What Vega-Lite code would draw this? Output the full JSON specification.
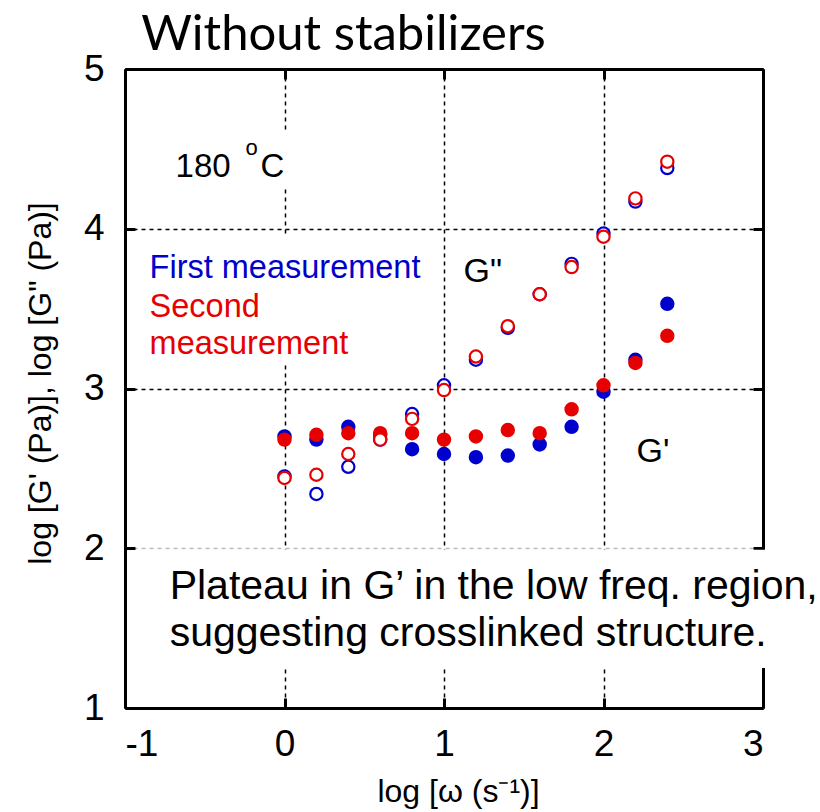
{
  "$schema": "https://vega.github.io/schema/vega-lite/v6.json",
  "width": 638,
  "height": 639,
  "autosize": {"type": "none"},
  "padding": {"left": 125, "top": 69, "right": 57, "bottom": 104},
  "background": "white",
  "config": {
    "view": {"stroke": null},
    "axis": {
      "domainColor": "black", "domainWidth": 3,
      "tickColor": "black", "tickWidth": 3, "tickSize": -10,
      "labelFont": "Liberation Sans", "labelFontSize": 37, "labelColor": "black",
      "titleFont": "Liberation Sans", "titleFontSize": 32, "titleFontWeight": "normal", "titleColor": "black",
      "gridColor": "black", "gridDash": [4, 4], "gridWidth": 1.5, "gridOpacity": 1
    }
  },
  "resolve": {"axis": {"x": "independent", "y": "independent"}},
  "layer": [
    {
      "data": {"values": [{}]},
      "mark": {"type": "point", "opacity": 0},
      "encoding": {
        "x": {"datum": 1, "type": "quantitative", "scale": {"domain": [-1, 3], "nice": false, "zero": false},
          "axis": {"orient": "top", "values": [-1, 0, 1, 2, 3], "labels": false, "title": null, "grid": false}},
        "y": {"datum": 3, "type": "quantitative", "scale": {"domain": [1, 5], "nice": false, "zero": false},
          "axis": {"orient": "right", "values": [1, 2, 3, 4, 5], "labels": false, "title": null, "grid": false}}
      }
    },
    {
      "data": {"values": [
        {"w": 0.0, "G": 2.70, "series": "First measurement", "modulus": "G'"},
        {"w": 0.2, "G": 2.68, "series": "First measurement", "modulus": "G'"},
        {"w": 0.4, "G": 2.76, "series": "First measurement", "modulus": "G'"},
        {"w": 0.6, "G": 2.71, "series": "First measurement", "modulus": "G'"},
        {"w": 0.8, "G": 2.62, "series": "First measurement", "modulus": "G'"},
        {"w": 1.0, "G": 2.59, "series": "First measurement", "modulus": "G'"},
        {"w": 1.2, "G": 2.57, "series": "First measurement", "modulus": "G'"},
        {"w": 1.4, "G": 2.58, "series": "First measurement", "modulus": "G'"},
        {"w": 1.6, "G": 2.65, "series": "First measurement", "modulus": "G'"},
        {"w": 1.8, "G": 2.76, "series": "First measurement", "modulus": "G'"},
        {"w": 2.0, "G": 2.98, "series": "First measurement", "modulus": "G'"},
        {"w": 2.2, "G": 3.18, "series": "First measurement", "modulus": "G'"},
        {"w": 2.4, "G": 3.53, "series": "First measurement", "modulus": "G'"},
        {"w": 0.0, "G": 2.45, "series": "First measurement", "modulus": "G\""},
        {"w": 0.2, "G": 2.34, "series": "First measurement", "modulus": "G\""},
        {"w": 0.4, "G": 2.51, "series": "First measurement", "modulus": "G\""},
        {"w": 0.6, "G": 2.68, "series": "First measurement", "modulus": "G\""},
        {"w": 0.8, "G": 2.84, "series": "First measurement", "modulus": "G\""},
        {"w": 1.0, "G": 3.02, "series": "First measurement", "modulus": "G\""},
        {"w": 1.2, "G": 3.18, "series": "First measurement", "modulus": "G\""},
        {"w": 1.4, "G": 3.38, "series": "First measurement", "modulus": "G\""},
        {"w": 1.6, "G": 3.59, "series": "First measurement", "modulus": "G\""},
        {"w": 1.8, "G": 3.78, "series": "First measurement", "modulus": "G\""},
        {"w": 2.0, "G": 3.97, "series": "First measurement", "modulus": "G\""},
        {"w": 2.2, "G": 4.17, "series": "First measurement", "modulus": "G\""},
        {"w": 2.4, "G": 4.38, "series": "First measurement", "modulus": "G\""},
        {"w": 0.0, "G": 2.68, "series": "Second measurement", "modulus": "G'"},
        {"w": 0.2, "G": 2.71, "series": "Second measurement", "modulus": "G'"},
        {"w": 0.4, "G": 2.72, "series": "Second measurement", "modulus": "G'"},
        {"w": 0.6, "G": 2.72, "series": "Second measurement", "modulus": "G'"},
        {"w": 0.8, "G": 2.72, "series": "Second measurement", "modulus": "G'"},
        {"w": 1.0, "G": 2.68, "series": "Second measurement", "modulus": "G'"},
        {"w": 1.2, "G": 2.70, "series": "Second measurement", "modulus": "G'"},
        {"w": 1.4, "G": 2.74, "series": "Second measurement", "modulus": "G'"},
        {"w": 1.6, "G": 2.72, "series": "Second measurement", "modulus": "G'"},
        {"w": 1.8, "G": 2.87, "series": "Second measurement", "modulus": "G'"},
        {"w": 2.0, "G": 3.02, "series": "Second measurement", "modulus": "G'"},
        {"w": 2.2, "G": 3.16, "series": "Second measurement", "modulus": "G'"},
        {"w": 2.4, "G": 3.33, "series": "Second measurement", "modulus": "G'"},
        {"w": 0.0, "G": 2.44, "series": "Second measurement", "modulus": "G\""},
        {"w": 0.2, "G": 2.46, "series": "Second measurement", "modulus": "G\""},
        {"w": 0.4, "G": 2.59, "series": "Second measurement", "modulus": "G\""},
        {"w": 0.6, "G": 2.68, "series": "Second measurement", "modulus": "G\""},
        {"w": 0.8, "G": 2.81, "series": "Second measurement", "modulus": "G\""},
        {"w": 1.0, "G": 2.99, "series": "Second measurement", "modulus": "G\""},
        {"w": 1.2, "G": 3.20, "series": "Second measurement", "modulus": "G\""},
        {"w": 1.4, "G": 3.39, "series": "Second measurement", "modulus": "G\""},
        {"w": 1.6, "G": 3.59, "series": "Second measurement", "modulus": "G\""},
        {"w": 1.8, "G": 3.76, "series": "Second measurement", "modulus": "G\""},
        {"w": 2.0, "G": 3.95, "series": "Second measurement", "modulus": "G\""},
        {"w": 2.2, "G": 4.19, "series": "Second measurement", "modulus": "G\""},
        {"w": 2.4, "G": 4.42, "series": "Second measurement", "modulus": "G\""}
      ]},
      "mark": {"type": "point", "shape": "circle", "size": 150, "strokeWidth": 2.2, "opacity": 1, "fillOpacity": 1},
      "encoding": {
        "x": {"field": "w", "type": "quantitative", "scale": {"domain": [-1, 3], "nice": false, "zero": false},
          "axis": {"orient": "bottom", "values": [-1, 0, 1, 2, 3], "labelExpr": "'' + datum.value", "labelPadding": 28, "title": "log [ω (s⁻¹)]", "titlePadding": 14, "titleX": 333, "titleAlign": "center", "grid": true}},
        "y": {"field": "G", "type": "quantitative", "scale": {"domain": [1, 5], "nice": false, "zero": false},
          "axis": {"orient": "left", "values": [1, 2, 3, 4, 5], "labelExpr": "'' + datum.value", "labelPadding": 31, "title": "log [G' (Pa)], log [G\" (Pa)]", "titlePadding": 26, "titleY": 314, "grid": true,
            "gridColor": {"condition": {"test": "datum.value === 2", "value": "#bbbbbb"}, "value": "black"}}},
        "stroke": {"field": "series", "type": "nominal", "scale": {"domain": ["First measurement", "Second measurement"], "range": ["#0000cc", "#e60000"]}, "legend": null},
        "fill": {"condition": {"test": "datum.modulus === 'G\"'", "value": "white"}, "field": "series", "type": "nominal", "scale": {"domain": ["First measurement", "Second measurement"], "range": ["#0000cc", "#e60000"]}, "legend": null}
      }
    },
    {
      "data": {"values": [{}]},
      "mark": {"type": "rect", "fill": "white", "stroke": null},
      "encoding": {
        "x": {"datum": -0.75, "type": "quantitative", "axis": null}, "x2": {"datum": 0.09},
        "y": {"datum": 4.6, "type": "quantitative", "axis": null}, "y2": {"datum": 4.25}
      }
    },
    {
      "data": {"values": [{}]},
      "mark": {"type": "rect", "fill": "white", "stroke": null},
      "encoding": {
        "x": {"datum": -0.9, "type": "quantitative", "axis": null}, "x2": {"datum": 0.9},
        "y": {"datum": 3.96, "type": "quantitative", "axis": null}, "y2": {"datum": 3.16}
      }
    },
    {
      "data": {"values": [{}]},
      "mark": {"type": "rect", "fill": "white", "stroke": null},
      "encoding": {
        "x": {"datum": -0.9, "type": "quantitative", "axis": null}, "x2": {"datum": 3.37},
        "y": {"datum": 1.99, "type": "quantitative", "axis": null}, "y2": {"datum": 1.25}
      }
    },
    {
      "data": {"values": [{}]},
      "mark": {"type": "text", "text": "Without stabilizers", "align": "left", "baseline": "alphabetic", "font": "Lato", "fontSize": 49, "color": "black"},
      "encoding": {"x": {"datum": -0.898, "type": "quantitative", "axis": null}, "y": {"datum": 5.117, "type": "quantitative", "axis": null}}
    },
    {
      "data": {"values": [{}]},
      "mark": {"type": "text", "text": "180", "align": "left", "baseline": "alphabetic", "font": "Liberation Sans", "fontSize": 33, "color": "black"},
      "encoding": {"x": {"datum": -0.683, "type": "quantitative", "axis": null}, "y": {"datum": 4.327, "type": "quantitative", "axis": null}}
    },
    {
      "data": {"values": [{}]},
      "mark": {"type": "text", "text": "o", "align": "left", "baseline": "alphabetic", "font": "Liberation Sans", "fontSize": 22, "color": "black"},
      "encoding": {"x": {"datum": -0.245, "type": "quantitative", "axis": null}, "y": {"datum": 4.46, "type": "quantitative", "axis": null}}
    },
    {
      "data": {"values": [{}]},
      "mark": {"type": "text", "text": "C", "align": "left", "baseline": "alphabetic", "font": "Liberation Sans", "fontSize": 33, "color": "black"},
      "encoding": {"x": {"datum": -0.15, "type": "quantitative", "axis": null}, "y": {"datum": 4.327, "type": "quantitative", "axis": null}}
    },
    {
      "data": {"values": [{}]},
      "mark": {"type": "text", "text": "First measurement", "align": "left", "baseline": "alphabetic", "font": "Liberation Sans", "fontSize": 32.5, "color": "#0000cc"},
      "encoding": {"x": {"datum": -0.846, "type": "quantitative", "axis": null}, "y": {"datum": 3.69, "type": "quantitative", "axis": null}}
    },
    {
      "data": {"values": [{}]},
      "mark": {"type": "text", "text": ["Second", "measurement"], "lineHeight": 37, "align": "left", "baseline": "alphabetic", "font": "Liberation Sans", "fontSize": 32.5, "color": "#e60000"},
      "encoding": {"x": {"datum": -0.846, "type": "quantitative", "axis": null}, "y": {"datum": 3.45, "type": "quantitative", "axis": null}}
    },
    {
      "data": {"values": [{}]},
      "mark": {"type": "text", "text": "G\"", "align": "left", "baseline": "alphabetic", "font": "Liberation Sans", "fontSize": 34, "color": "black"},
      "encoding": {"x": {"datum": 1.122, "type": "quantitative", "axis": null}, "y": {"datum": 3.664, "type": "quantitative", "axis": null}}
    },
    {
      "data": {"values": [{}]},
      "mark": {"type": "text", "text": "G'", "align": "left", "baseline": "alphabetic", "font": "Liberation Sans", "fontSize": 34, "color": "black"},
      "encoding": {"x": {"datum": 2.207, "type": "quantitative", "axis": null}, "y": {"datum": 2.537, "type": "quantitative", "axis": null}}
    },
    {
      "data": {"values": [{}]},
      "mark": {"type": "text", "text": ["Plateau in G’ in the low freq. region,", "suggesting crosslinked structure."], "lineHeight": 47, "align": "left", "baseline": "alphabetic", "font": "Liberation Sans", "fontSize": 41, "color": "black"},
      "encoding": {"x": {"datum": -0.72, "type": "quantitative", "axis": null}, "y": {"datum": 1.68, "type": "quantitative", "axis": null}}
    }
  ]
}
